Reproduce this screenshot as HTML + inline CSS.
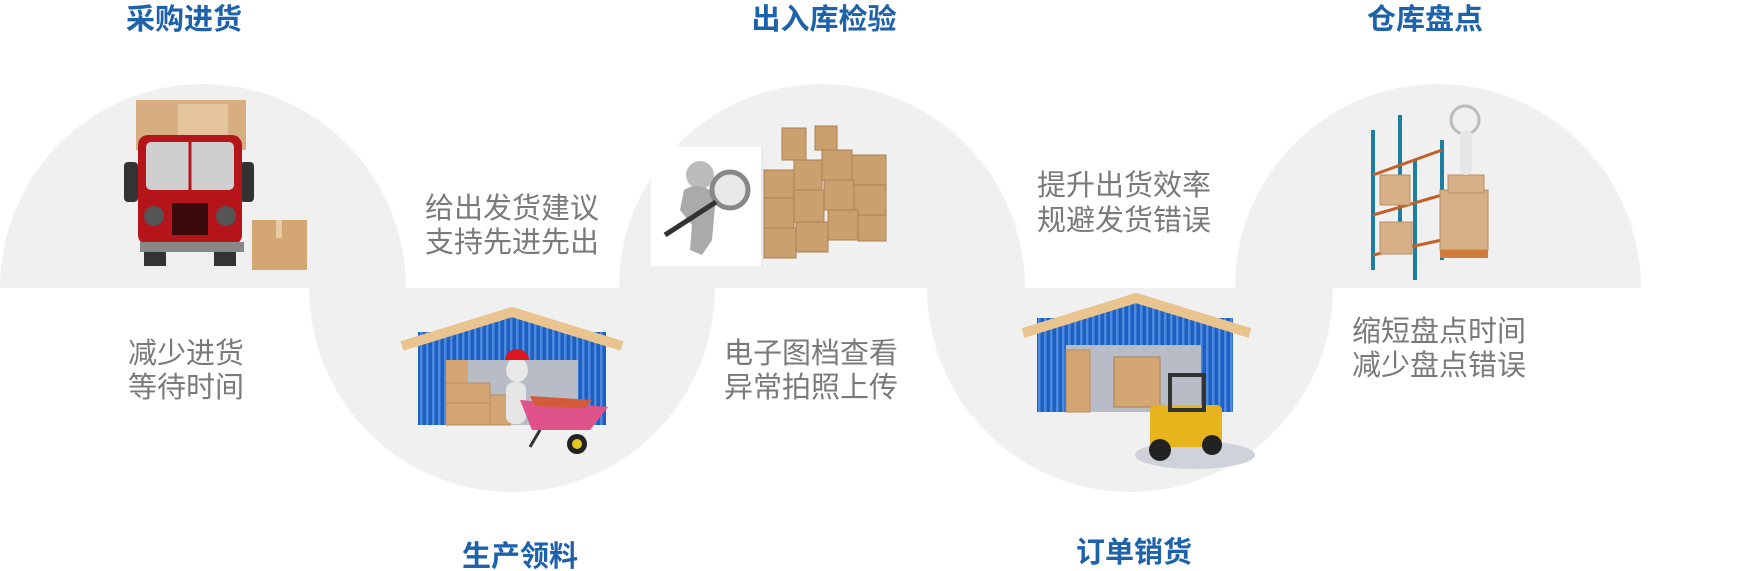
<!DOCTYPE html>
<html><head><meta charset="utf-8"><style>
html,body{margin:0;padding:0;background:#fff;}
svg{display:block;}
.t{font-family:"Liberation Sans","Noto Sans CJK SC",sans-serif;font-weight:bold;fill:#1d62aa;font-size:29px;text-anchor:middle;}
.d{font-family:"Liberation Sans","Noto Sans CJK SC",sans-serif;fill:#7a7a7a;font-size:29px;}
</style></head><body>
<svg width="1752" height="571" viewBox="0 0 1752 571" xmlns="http://www.w3.org/2000/svg">
<defs>
<pattern id="cor" width="6" height="10" patternUnits="userSpaceOnUse"><rect width="6" height="10" fill="#1f5fc0"/><rect width="2.5" height="10" fill="#4a8ae0"/></pattern>
</defs>
<g fill="#f0f0f0">
<path d="M0 288 A203 204 0 0 1 406 288 Z"/>
<path d="M309 288 A203 204 0 0 0 715 288 Z"/>
<path d="M619 288 A203 204 0 0 1 1025 288 Z"/>
<path d="M927 288 A203 204 0 0 0 1333 288 Z"/>
<path d="M1235 288 A203 204 0 0 1 1641 288 Z"/>
</g>
<text class="t" x="184" y="29">采购进货</text>
<text class="t" x="824" y="29">出入库检验</text>
<text class="t" x="1425" y="29">仓库盘点</text>
<text class="t" x="520" y="566">生产领料</text>
<text class="t" x="1134" y="562">订单销货</text>
<text class="d" x="425" y="218">给出发货建议</text>
<text class="d" x="425" y="252">支持先进先出</text>
<text class="d" x="128" y="363">减少进货</text>
<text class="d" x="128" y="397">等待时间</text>
<text class="d" x="724" y="363">电子图档查看</text>
<text class="d" x="724" y="397">异常拍照上传</text>
<text class="d" x="1037" y="195">提升出货效率</text>
<text class="d" x="1037" y="230">规避发货错误</text>
<text class="d" x="1352" y="341">缩短盘点时间</text>
<text class="d" x="1352" y="375">减少盘点错误</text>

<g>
<rect x="136" y="100" width="110" height="50" fill="#d7ae82"/>
<rect x="178" y="104" width="50" height="40" fill="#e4c49c"/>
<rect x="240" y="162" width="14" height="40" rx="4" fill="#333"/>
<rect x="124" y="162" width="14" height="40" rx="4" fill="#333"/>
<rect x="138" y="135" width="104" height="110" rx="10" fill="#b5141b"/>
<rect x="146" y="142" width="88" height="48" rx="5" fill="#cfcfcf"/>
<line x1="190" y1="142" x2="190" y2="190" stroke="#b5141b" stroke-width="3"/>
<rect x="172" y="203" width="36" height="32" fill="#3a0a0a"/>
<circle cx="154" cy="216" r="10" fill="#555"/><circle cx="226" cy="216" r="10" fill="#555"/>
<rect x="140" y="242" width="104" height="10" fill="#888"/>
<rect x="144" y="252" width="22" height="14" fill="#333"/><rect x="214" y="252" width="22" height="14" fill="#333"/>
<rect x="252" y="220" width="55" height="50" fill="#d3a673"/>
<rect x="276" y="220" width="6" height="18" fill="#e7c9a3"/>
</g>
<g>
<rect x="418" y="332" width="188" height="93" fill="url(#cor)"/>
<polygon points="418,340 512,310 606,340 606,350 418,350" fill="url(#cor)"/>
<rect x="446" y="360" width="132" height="65" fill="#b7bcc6"/>
<rect x="446" y="360" width="22" height="30" fill="#d3a673"/>
<rect x="446" y="383" width="44" height="20" fill="#d3a673" stroke="#b88c5b"/>
<rect x="446" y="403" width="44" height="22" fill="#d3a673" stroke="#b88c5b"/>
<rect x="490" y="395" width="20" height="30" fill="#d3a673" stroke="#b88c5b"/>
<polyline points="402,346 512,312 622,346" fill="none" stroke="#e9c48f" stroke-width="10" stroke-linejoin="round"/>
<ellipse cx="517" cy="370" rx="11" ry="12" fill="#e9e9e9"/>
<path d="M505 360 A12 11 0 0 1 529 360 Z" fill="#d9191f"/>
<rect x="506" y="382" width="20" height="42" rx="8" fill="#e6e6e6"/>
<polygon points="520,400 608,407 590,430 532,430" fill="#e0528a"/>
<polygon points="530,396 592,400 585,408 535,406" fill="#d25b3a"/>
<circle cx="577" cy="444" r="10" fill="#222"/><circle cx="577" cy="444" r="5" fill="#e2c71d"/>
<line x1="540" y1="430" x2="530" y2="447" stroke="#333" stroke-width="3"/>
</g>
<g>
<rect x="651" y="147" width="111" height="119" fill="#fff"/>
<circle cx="700" cy="175" r="14" fill="#bcbcbc"/>
<path d="M684 190 Q700 180 716 195 L712 240 L702 255 L690 250 L692 225 L680 210 Z" fill="#aaa"/>
<circle cx="730" cy="190" r="18" fill="#e8e8e8" stroke="#888" stroke-width="5"/>
<line x1="716" y1="202" x2="665" y2="235" stroke="#333" stroke-width="5"/>
<line x1="762" y1="147" x2="762" y2="266" stroke="#ddd"/>
<g fill="#c9a06e" stroke="#a9804f" stroke-width="1">
<rect x="764" y="170" width="30" height="28"/><rect x="794" y="160" width="28" height="30"/><rect x="822" y="150" width="30" height="30"/><rect x="852" y="155" width="34" height="30"/>
<rect x="764" y="198" width="30" height="30"/><rect x="794" y="190" width="30" height="32"/><rect x="824" y="180" width="30" height="30"/><rect x="854" y="185" width="32" height="30"/>
<rect x="764" y="228" width="32" height="30"/><rect x="796" y="222" width="32" height="30"/><rect x="828" y="210" width="30" height="30"/><rect x="858" y="215" width="28" height="26"/>
<rect x="782" y="128" width="24" height="32"/><rect x="815" y="126" width="22" height="24"/>
</g>
</g>
<g>
<rect x="1037" y="318" width="196" height="94" fill="url(#cor)"/>
<polygon points="1037,325 1136,295 1233,325 1233,335 1037,335" fill="url(#cor)"/>
<rect x="1066" y="345" width="135" height="67" fill="#b7bcc6"/>
<rect x="1066" y="350" width="24" height="62" fill="#d3a673" stroke="#b88c5b"/>
<rect x="1114" y="357" width="46" height="50" fill="#d3a673" stroke="#a9804f"/>
<polyline points="1023,333 1136,298 1250,333" fill="none" stroke="#e9c48f" stroke-width="10" stroke-linejoin="round"/>
<ellipse cx="1195" cy="455" rx="60" ry="14" fill="#cfd2d8"/>
<rect x="1150" y="405" width="72" height="42" rx="5" fill="#e8b41e"/>
<rect x="1170" y="375" width="34" height="35" fill="none" stroke="#333" stroke-width="4"/>
<circle cx="1160" cy="450" r="11" fill="#222"/><circle cx="1212" cy="445" r="10" fill="#222"/>
</g>
<g>
<g stroke="#1e7ea0" stroke-width="4">
<line x1="1373" y1="130" x2="1373" y2="270"/><line x1="1400" y1="115" x2="1400" y2="240"/>
<line x1="1415" y1="160" x2="1415" y2="280"/><line x1="1442" y1="140" x2="1442" y2="260"/>
</g>
<g stroke="#c2602a" stroke-width="3">
<line x1="1373" y1="175" x2="1442" y2="150"/><line x1="1373" y1="215" x2="1442" y2="195"/><line x1="1373" y1="255" x2="1442" y2="240"/>
</g>
<g fill="#d8b088" stroke="#b88c5b">
<rect x="1380" y="175" width="30" height="30"/><rect x="1380" y="222" width="32" height="32"/>
<rect x="1440" y="190" width="48" height="60"/><rect x="1448" y="175" width="36" height="18"/>
</g>
<rect x="1440" y="250" width="48" height="8" fill="#d07d3b"/>
<circle cx="1465" cy="120" r="14" fill="#f0f0f0" stroke="#bbb" stroke-width="3"/>
<rect x="1460" y="130" width="12" height="45" rx="5" fill="#e6e6e6"/>
</g>
</svg>
</body></html>
